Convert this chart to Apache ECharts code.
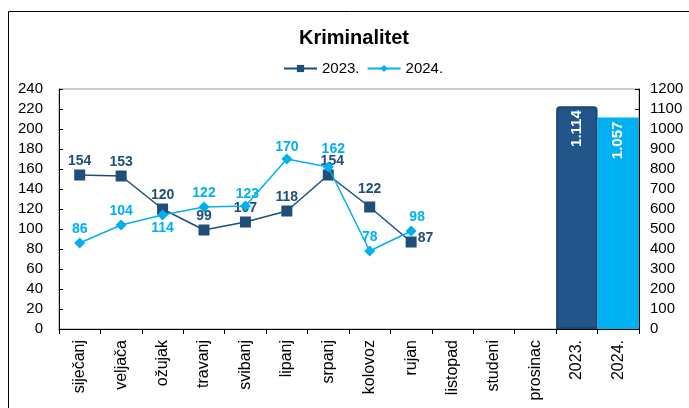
<!DOCTYPE html>
<html>
<head>
<meta charset="utf-8">
<script src="https://cdn.jsdelivr.net/npm/echarts@6/dist/echarts.min.js"></script>
<style>
html,body{margin:0;padding:0;background:#fff;}
#c{width:689px;height:408px;}
</style>
</head>
<body>
<div id="c"></div>
<script>
const categories = ['siječanj','veljača','ožujak','travanj','svibanj','lipanj','srpanj','kolovoz','rujan','listopad','studeni','prosinac','2023.','2024.'];
const series2023 = [154,153,120,99,107,118,154,122,87];
const series2024 = [86,104,114,122,123,170,162,78,98];
const totals = [1114,1057];
const leftTicks = {min:0,max:240,interval:20};
const rightTicks = {min:0,max:1200,interval:100};

const DARK = '#1F4E79';
const LIGHT = '#00B0F0';
const FONT = "'Liberation Sans', Arial, sans-serif";

// label placement (style, not data)
const pos2023 = ['top','top','top','top','top','top','top','top','right'];
const off2023 = [[0,0],[0,0],[0,0],[0,0],[0,0],[0,0],[4,0],[0,-4],[0,-4]];
const pos2024 = ['top','top','bottom','top','top','top','top','top','top'];
const off2024 = [[0,0],[0,0],[0,0],[0,0],[2,2],[0,2],[5,-4],[0,0],[6,0]];

function fmt(v){ return String(v).replace(/\B(?=(\d{3})+(?!\d))/g,'.'); }

const d2023 = series2023.map((v,i)=>({value:v,label:{position:pos2023[i],offset:off2023[i]}}));
const d2024 = series2024.map((v,i)=>({value:v,label:{position:pos2024[i],offset:off2024[i]}}));
const barColors = [{color:'#22568A',borderColor:'#1B4670',borderWidth:2,borderRadius:[3,3,0,0]},{color:LIGHT}];
const barData = categories.map((c,i)=>{
  const k = i - 12;
  if (k < 0) return null;
  return {value: totals[k], itemStyle: barColors[k]};
});

const chart = echarts.init(document.getElementById('c'));
chart.setOption({
  animation:false,
  textStyle:{fontFamily:FONT},
  title:{
    text:'Kriminalitet', left:349, top:23, textAlign:'center',
    textStyle:{fontFamily:FONT,fontSize:20,fontWeight:'bold',color:'#000'}
  },
  legend:{
    left:278, top:56, itemWidth:33, itemHeight:9, itemGap:7,
    textStyle:{fontFamily:FONT,fontSize:15,color:'#000'},
    data:['2023.','2024.']
  },
  grid:{left:59,right:50,top:89,bottom:79,show:true,borderColor:'#999',borderWidth:1,backgroundColor:'transparent'},
  xAxis:{
    type:'category', data:categories, boundaryGap:true,
    axisLine:{lineStyle:{color:'#000',width:1}},
    axisTick:{show:true,length:5,lineStyle:{color:'#000'}},
    axisLabel:{rotate:90,interval:0,margin:11,fontSize:16,color:'#000',fontFamily:FONT}
  },
  yAxis:[{
    type:'value', min:leftTicks.min, max:leftTicks.max, interval:leftTicks.interval,
    axisLine:{show:true,lineStyle:{color:'#000'}},
    axisTick:{show:true,inside:true,length:4,lineStyle:{color:'#000'}},
    axisLabel:{margin:16,fontSize:15,color:'#000',fontFamily:FONT},
    splitLine:{show:false}
  },{
    type:'value', position:'right', min:rightTicks.min, max:rightTicks.max, interval:rightTicks.interval,
    axisLine:{show:true,lineStyle:{color:'#000'}},
    axisTick:{show:true,inside:true,length:4,lineStyle:{color:'#000'}},
    axisLabel:{margin:11,fontSize:15,color:'#000',fontFamily:FONT,formatter:v=>String(v)},
    splitLine:{show:false}
  }],
  graphic:[{
    type:'rect', silent:true, z:-10,
    shape:{x:8.5,y:11.5,width:900,height:600},
    style:{fill:'none',stroke:'#000',lineWidth:1}
  }],
  series:[
    {
      name:'totals', type:'bar', yAxisIndex:1, data:barData,
      barWidth:'100%', z:1,
      label:{
        show:true, position:'insideTop', rotate:90, align:'right', verticalAlign:'middle',
        distance:4, color:'#fff', fontWeight:'bold', fontSize:15, fontFamily:FONT,
        formatter:p=>fmt(p.value)
      }
    },
    {
      name:'2023.', type:'line', data:d2023, z:3,
      symbol:'rect', symbolSize:11,
      lineStyle:{color:DARK,width:1.5}, itemStyle:{color:DARK},
      label:{show:true,distance:1,color:DARK,fontWeight:'bold',fontSize:14,fontFamily:FONT}
    },
    {
      name:'2024.', type:'line', data:d2024, z:4,
      symbol:'diamond', symbolSize:11,
      lineStyle:{color:LIGHT,width:1.5}, itemStyle:{color:LIGHT},
      label:{show:true,distance:1,color:LIGHT,fontWeight:'bold',fontSize:14,fontFamily:FONT}
    }
  ]
});
</script>
</body>
</html>
